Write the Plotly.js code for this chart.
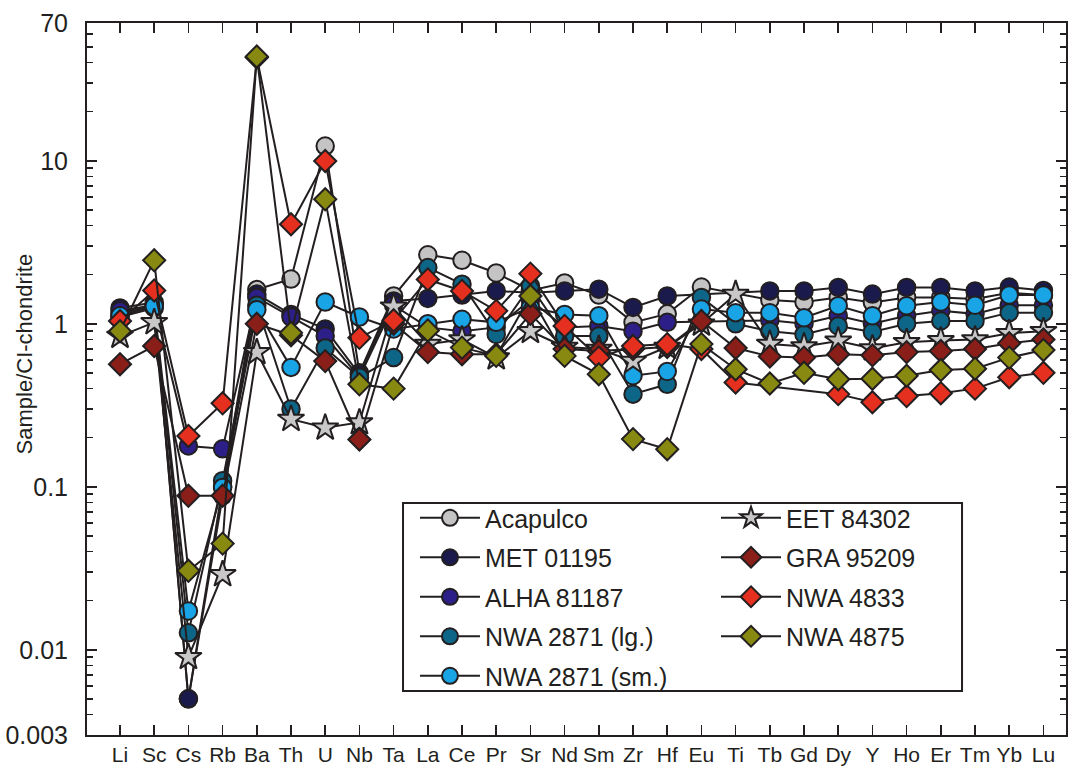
<!DOCTYPE html>
<html>
<head>
<meta charset="utf-8">
<script src="https://cdn.plot.ly/plotly-3.0.1.min.js"></script>
<style>html,body{margin:0;padding:0;background:#fff;}#chart{width:1068px;height:774px;}</style>
</head>
<body>
<div id="chart"></div>
<script>
const elements = ['Li','Sc','Cs','Rb','Ba','Th','U','Nb','Ta','La','Ce','Pr','Sr','Nd','Sm','Zr','Hf','Eu','Ti','Tb','Gd','Dy','Y','Ho','Er','Tm','Yb','Lu'];

const acapulco  = [1.15,1.3,0.005,0.1,1.62,1.88,12.3,0.5,1.48,2.65,2.45,2.05,1.6,1.78,1.5,1.02,1.15,1.68,null,1.4,1.36,1.45,1.35,1.45,1.45,1.42,1.55,1.5];
const met01195  = [1.25,1.35,0.005,0.088,1.52,1.14,0.93,0.49,1.38,1.43,1.5,1.59,1.55,1.59,1.63,1.26,1.48,null,null,1.59,1.59,1.67,1.52,1.67,1.67,1.59,1.68,1.6];
const alha81187 = [1.2,1.3,0.178,0.171,1.45,1.1,0.84,0.47,1.3,0.95,0.9,0.95,1.4,0.95,0.97,0.9,1.02,null,null,1.05,1.0,1.12,1.0,1.12,1.2,1.15,1.3,1.3];
const nwa2871lg = [1.1,1.25,0.0127,0.109,1.3,0.30,0.71,0.47,0.62,2.21,1.75,0.86,1.71,0.84,0.84,0.37,0.425,1.45,1.0,0.9,0.86,0.97,0.89,1.0,1.04,1.04,1.17,1.17];
const nwa2871sm = [1.12,1.28,0.0173,0.099,1.22,0.54,1.36,1.1,0.93,1.0,1.065,1.02,1.26,1.14,1.12,0.48,0.51,1.23,1.17,1.17,1.09,1.29,1.12,1.29,1.36,1.30,1.50,1.50];
const eet84302  = [0.84,1.02,0.009,0.029,0.668,0.26,0.23,0.248,1.27,0.75,0.80,0.62,0.90,0.72,0.70,0.59,0.72,1.0,1.52,0.75,0.725,0.785,0.705,0.77,0.79,0.80,0.875,0.90];
const gra95209  = [0.565,0.73,0.088,0.088,1.0,0.85,0.59,0.195,1.0,0.67,0.65,0.65,1.15,0.7,0.68,0.7,0.72,1.04,0.71,0.63,0.62,0.65,0.64,0.67,0.68,0.70,0.76,0.80];
const nwa4833   = [1.04,1.6,0.205,0.325,43,4.08,9.97,0.82,1.05,1.87,1.59,1.2,2.03,0.97,0.62,0.73,0.75,0.70,0.436,null,null,0.37,0.33,0.36,0.375,0.40,0.47,0.50];
const nwa4875   = [0.90,2.45,0.0305,0.0448,43.6,0.88,5.8,0.425,0.40,0.91,0.714,0.635,1.48,0.635,0.49,0.196,0.17,0.75,0.526,0.43,0.50,0.457,0.46,0.48,0.52,0.53,0.62,0.69];

const yTickVals = [0.003,0.01,0.1,1,10,70];
const yTickText = ['0.003','0.01','0.1','1','10','70'];

const seriesDefs = [
  {name:'Acapulco', y:acapulco, sym:'circle', col:'#c4c4c4', leg:'legend'},
  {name:'MET 01195', y:met01195, sym:'circle', col:'#1b1a4d', leg:'legend'},
  {name:'ALHA 81187', y:alha81187, sym:'circle', col:'#2d1f88', leg:'legend'},
  {name:'NWA 2871 (lg.)', y:nwa2871lg, sym:'circle', col:'#0d6687', leg:'legend'},
  {name:'NWA 2871 (sm.)', y:nwa2871sm, sym:'circle', col:'#19a4e6', leg:'legend'},
  {name:'EET 84302', y:eet84302, sym:'star', col:'#c8c8c8', leg:'legend2'},
  {name:'GRA 95209', y:gra95209, sym:'diamond', col:'#8a1f1a', leg:'legend2'},
  {name:'NWA 4833', y:nwa4833, sym:'diamond', col:'#e5301f', leg:'legend2'},
  {name:'NWA 4875', y:nwa4875, sym:'diamond', col:'#878910', leg:'legend2'}
];

const sizeFor = {circle:17.5, diamond:17, star:20};
const traces = seriesDefs.map((s,i) => ({
  type:'scatter', mode:'lines+markers', name:s.name, x:elements, y:s.y,
  connectgaps:true, legend:s.leg, legendgroup:'g'+i,
  line:{color:'#231f20', width:2},
  marker:{symbol:s.sym, size:sizeFor[s.sym], color:s.col, line:{color:'#231f20', width:2}}
}));

const minorVals = [];
[0.001,0.01,0.1,1,10].forEach(d => { for (let k=2;k<=9;k++){ const v=d*k; if (v>0.003 && v<70) minorVals.push(v); } });

const fontFam = 'Liberation Sans, Arial, sans-serif';
const layout = {
  width:1068, height:774,
  margin:{l:87, r:2, t:23, b:39},
  paper_bgcolor:'#ffffff', plot_bgcolor:'#ffffff',
  font:{family:fontFam, color:'#231f20'},
  showlegend:true,
  xaxis:{
    type:'category', range:[-0.965, 27.66],
    showline:true, linecolor:'#231f20', linewidth:2, mirror:'ticks',
    ticks:'inside', ticklen:10, tickwidth:1.5, tickcolor:'#231f20',
    showgrid:false, zeroline:false,
    tickfont:{size:21, family:fontFam, color:'#231f20'}
  },
  yaxis:{
    type:'log', range:[Math.log10(0.003), Math.log10(70)],
    tickmode:'array', tickvals:yTickVals, ticktext:yTickText,
    showline:true, linecolor:'#231f20', linewidth:2, mirror:'ticks',
    ticks:'inside', ticklen:10, tickwidth:1.5, tickcolor:'#231f20',
    minor:{tickmode:'array', tickvals:minorVals, ticks:'inside', ticklen:6, tickwidth:1.5, tickcolor:'#231f20', showgrid:false},
    showgrid:false, zeroline:false, ticklabelstandoff:12,
    tickfont:{size:25, family:fontFam, color:'#231f20'}
  },
  legend:{
    x:0.335, y:0.337, xanchor:'left', yanchor:'top',
    bgcolor:'rgba(0,0,0,0)', borderwidth:0, itemwidth:60,
    traceorder:'grouped', tracegroupgap:4,
    font:{size:25, family:fontFam, color:'#231f20'}
  },
  legend2:{
    x:0.6425, y:0.337, xanchor:'left', yanchor:'top',
    bgcolor:'rgba(0,0,0,0)', borderwidth:0, itemwidth:60,
    traceorder:'grouped', tracegroupgap:4,
    font:{size:25, family:fontFam, color:'#231f20'}
  },
  shapes:[{type:'rect', xref:'paper', yref:'paper', x0:0.3228, x1:0.8938, y0:0.0618, y1:0.3258,
           line:{color:'#231f20', width:2}, fillcolor:'rgba(0,0,0,0)'}],
  annotations:[{text:'Sample/CI-chondrite', xref:'paper', yref:'paper', x:-0.064, y:0.535,
    xanchor:'center', yanchor:'middle', textangle:-90, showarrow:false,
    font:{size:22, family:fontFam, color:'#231f20'}}]
};

Plotly.newPlot('chart', traces, layout, {displayModeBar:false, staticPlot:true});
</script>
</body>
</html>
